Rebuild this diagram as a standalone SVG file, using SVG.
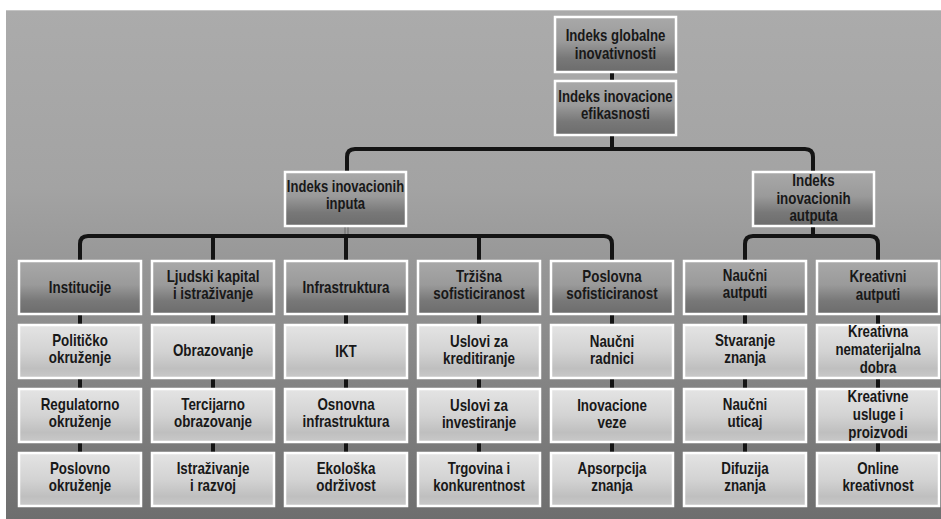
<svg xmlns="http://www.w3.org/2000/svg" width="941" height="519" viewBox="0 0 941 519">
<defs>
<linearGradient id="bg" x1="0" y1="0" x2="0" y2="1">
<stop offset="0" stop-color="#ababab"/><stop offset="0.35" stop-color="#a3a3a3"/><stop offset="1" stop-color="#6e6e6e"/>
</linearGradient>
<linearGradient id="dk" x1="0" y1="0" x2="0" y2="1">
<stop offset="0" stop-color="#a9a9a9"/><stop offset="0.45" stop-color="#9a9a9a"/><stop offset="0.75" stop-color="#787878"/><stop offset="1" stop-color="#6c6c6c"/>
</linearGradient>
<linearGradient id="lt" x1="0" y1="0" x2="0" y2="1">
<stop offset="0" stop-color="#e4e4e4"/><stop offset="0.5" stop-color="#d3d3d3"/><stop offset="0.82" stop-color="#bfbfbf"/><stop offset="1" stop-color="#c9c9c9"/>
</linearGradient>
<style>
.d{fill:url(#dk);stroke:#fff;stroke-width:2.5}
.l{fill:url(#lt);stroke:#fff;stroke-width:2.5}
.c{fill:none;stroke:#141414;stroke-width:4;stroke-linejoin:round}
text{font-family:"Liberation Sans",Arial,sans-serif;font-weight:bold;font-size:16.5px;fill:#181818;text-anchor:middle}
</style>
</defs>
<rect x="0" y="0" width="941" height="519" fill="#fff"/>
<rect x="6" y="10" width="935" height="509" fill="url(#bg)"/>
<line x1="6" y1="10.5" x2="941" y2="10.5" stroke="#c4c4c4" stroke-width="1"/>
<g id="connectors">
<path class="c" d="M612,72 V81"/>
<path class="c" d="M612,135 V149"/>
<path class="c" d="M347,172 V157 Q347,149 355,149 H805 Q813,149 813,157 V172"/>
<path d="M345,226 V236 M348,226 V236" stroke="#6a6a6a" stroke-width="1" fill="none"/>
<path class="c" d="M80,261 V244 Q80,236 88,236 H604 Q612,236 612,244 V261"/>
<path class="c" d="M213,236 V261 M346,236 V261 M479,236 V261"/>
<path class="c" d="M813,226 V236"/>
<path class="c" d="M745,261 V244 Q745,236 753,236 H870 Q878,236 878,244 V261"/>
<path class="c" d="M80,314 V453 M213,314 V453 M346,314 V453 M479,314 V453 M612,314 V453 M745,314 V453 M878,314 V453"/>
</g>
<g id="n-global"><rect class="d" x="555" y="17" width="121" height="55"/><text transform="translate(615.5,0) scale(0.8,1)"><tspan x="0" y="41.5">Indeks globalne</tspan><tspan x="0" y="59">inovativnosti</tspan></text></g>
<g id="n-efikasnost"><rect class="d" x="555" y="81" width="121" height="54"/><text transform="translate(615.5,0) scale(0.8,1)"><tspan x="0" y="102">Indeks inovacione</tspan><tspan x="0" y="119.5">efikasnosti</tspan></text></g>
<g id="n-inputi"><rect class="d" x="285" y="172" width="121" height="54"/><text transform="translate(345.5,0) scale(0.79,1)"><tspan x="0" y="192">Indeks inovacionih</tspan><tspan x="0" y="209">inputa</tspan></text></g>
<g id="n-autputi"><rect class="d" x="753" y="172" width="121" height="54"/><text transform="translate(813.5,0) scale(0.81,1)"><tspan x="0" y="186.5">Indeks</tspan><tspan x="0" y="204">inovacionih</tspan><tspan x="0" y="221.5">autputa</tspan></text></g>

<g id="c0h"><rect class="d" x="19" y="261" width="122" height="53"/><text transform="translate(80,0) scale(0.81,1)"><tspan x="0" y="293">Institucije</tspan></text></g>
<g id="c0r1"><rect class="l" x="19" y="325" width="122" height="53"/><text transform="translate(80,0) scale(0.81,1)"><tspan x="0" y="346">Političko</tspan><tspan x="0" y="363">okruženje</tspan></text></g>
<g id="c0r2"><rect class="l" x="19" y="389" width="122" height="53"/><text transform="translate(80,0) scale(0.81,1)"><tspan x="0" y="410">Regulatorno</tspan><tspan x="0" y="427">okruženje</tspan></text></g>
<g id="c0r3"><rect class="l" x="19" y="453" width="122" height="53"/><text transform="translate(80,0) scale(0.81,1)"><tspan x="0" y="474">Poslovno</tspan><tspan x="0" y="491">okruženje</tspan></text></g>

<g id="c1h"><rect class="d" x="152" y="261" width="122" height="53"/><text transform="translate(213,0) scale(0.81,1)"><tspan x="0" y="282">Ljudski kapital</tspan><tspan x="0" y="299">i  istraživanje</tspan></text></g>
<g id="c1r1"><rect class="l" x="152" y="325" width="122" height="53"/><text transform="translate(213,0) scale(0.81,1)"><tspan x="0" y="356">Obrazovanje</tspan></text></g>
<g id="c1r2"><rect class="l" x="152" y="389" width="122" height="53"/><text transform="translate(213,0) scale(0.81,1)"><tspan x="0" y="410">Tercijarno</tspan><tspan x="0" y="427">obrazovanje</tspan></text></g>
<g id="c1r3"><rect class="l" x="152" y="453" width="122" height="53"/><text transform="translate(213,0) scale(0.81,1)"><tspan x="0" y="474">Istraživanje</tspan><tspan x="0" y="491">i razvoj</tspan></text></g>

<g id="c2h"><rect class="d" x="285" y="261" width="122" height="53"/><text transform="translate(346,0) scale(0.81,1)"><tspan x="0" y="293">Infrastruktura</tspan></text></g>
<g id="c2r1"><rect class="l" x="285" y="325" width="122" height="53"/><text transform="translate(346,0) scale(0.81,1)"><tspan x="0" y="357">IKT</tspan></text></g>
<g id="c2r2"><rect class="l" x="285" y="389" width="122" height="53"/><text transform="translate(346,0) scale(0.81,1)"><tspan x="0" y="410">Osnovna</tspan><tspan x="0" y="427">infrastruktura</tspan></text></g>
<g id="c2r3"><rect class="l" x="285" y="453" width="122" height="53"/><text transform="translate(346,0) scale(0.81,1)"><tspan x="0" y="474">Ekološka</tspan><tspan x="0" y="491">održivost</tspan></text></g>

<g id="c3h"><rect class="d" x="418" y="261" width="122" height="53"/><text transform="translate(479,0) scale(0.81,1)"><tspan x="0" y="282">Tržišna</tspan><tspan x="0" y="299.5">sofisticiranost</tspan></text></g>
<g id="c3r1"><rect class="l" x="418" y="325" width="122" height="53"/><text transform="translate(479,0) scale(0.81,1)"><tspan x="0" y="347">Uslovi za</tspan><tspan x="0" y="364">kreditiranje</tspan></text></g>
<g id="c3r2"><rect class="l" x="418" y="389" width="122" height="53"/><text transform="translate(479,0) scale(0.81,1)"><tspan x="0" y="411">Uslovi za</tspan><tspan x="0" y="428">investiranje</tspan></text></g>
<g id="c3r3"><rect class="l" x="418" y="453" width="122" height="53"/><text transform="translate(479,0) scale(0.8,1)"><tspan x="0" y="474">Trgovina i</tspan><tspan x="0" y="491">konkurentnost</tspan></text></g>

<g id="c4h"><rect class="d" x="551" y="261" width="122" height="53"/><text transform="translate(612,0) scale(0.81,1)"><tspan x="0" y="282">Poslovna</tspan><tspan x="0" y="299.5">sofisticiranost</tspan></text></g>
<g id="c4r1"><rect class="l" x="551" y="325" width="122" height="53"/><text transform="translate(612,0) scale(0.81,1)"><tspan x="0" y="347">Naučni</tspan><tspan x="0" y="364">radnici</tspan></text></g>
<g id="c4r2"><rect class="l" x="551" y="389" width="122" height="53"/><text transform="translate(612,0) scale(0.81,1)"><tspan x="0" y="411">Inovacione</tspan><tspan x="0" y="428">veze</tspan></text></g>
<g id="c4r3"><rect class="l" x="551" y="453" width="122" height="53"/><text transform="translate(612,0) scale(0.81,1)"><tspan x="0" y="474">Apsorpcija</tspan><tspan x="0" y="491">znanja</tspan></text></g>

<g id="c5h"><rect class="d" x="684" y="261" width="122" height="53"/><text transform="translate(745,0) scale(0.81,1)"><tspan x="0" y="281">Naučni</tspan><tspan x="0" y="298.5">autputi</tspan></text></g>
<g id="c5r1"><rect class="l" x="684" y="325" width="122" height="53"/><text transform="translate(745,0) scale(0.81,1)"><tspan x="0" y="346">Stvaranje</tspan><tspan x="0" y="363">znanja</tspan></text></g>
<g id="c5r2"><rect class="l" x="684" y="389" width="122" height="53"/><text transform="translate(745,0) scale(0.81,1)"><tspan x="0" y="410">Naučni</tspan><tspan x="0" y="427">uticaj</tspan></text></g>
<g id="c5r3"><rect class="l" x="684" y="453" width="122" height="53"/><text transform="translate(745,0) scale(0.81,1)"><tspan x="0" y="474">Difuzija</tspan><tspan x="0" y="491">znanja</tspan></text></g>

<g id="c6h"><rect class="d" x="817" y="261" width="122" height="53"/><text transform="translate(878,0) scale(0.81,1)"><tspan x="0" y="282.5">Kreativni</tspan><tspan x="0" y="300">autputi</tspan></text></g>
<g id="c6r1"><rect class="l" x="817" y="325" width="122" height="53"/><text transform="translate(878,0) scale(0.8,1)"><tspan x="0" y="337.5">Kreativna</tspan><tspan x="0" y="355.5">nematerijalna</tspan><tspan x="0" y="373">dobra</tspan></text></g>
<g id="c6r2"><rect class="l" x="817" y="389" width="122" height="53"/><text transform="translate(878,0) scale(0.81,1)"><tspan x="0" y="402">Kreativne</tspan><tspan x="0" y="420">usluge i</tspan><tspan x="0" y="438">proizvodi</tspan></text></g>
<g id="c6r3"><rect class="l" x="817" y="453" width="122" height="53"/><text transform="translate(878,0) scale(0.81,1)"><tspan x="0" y="474">Online</tspan><tspan x="0" y="491">kreativnost</tspan></text></g>
</svg>
